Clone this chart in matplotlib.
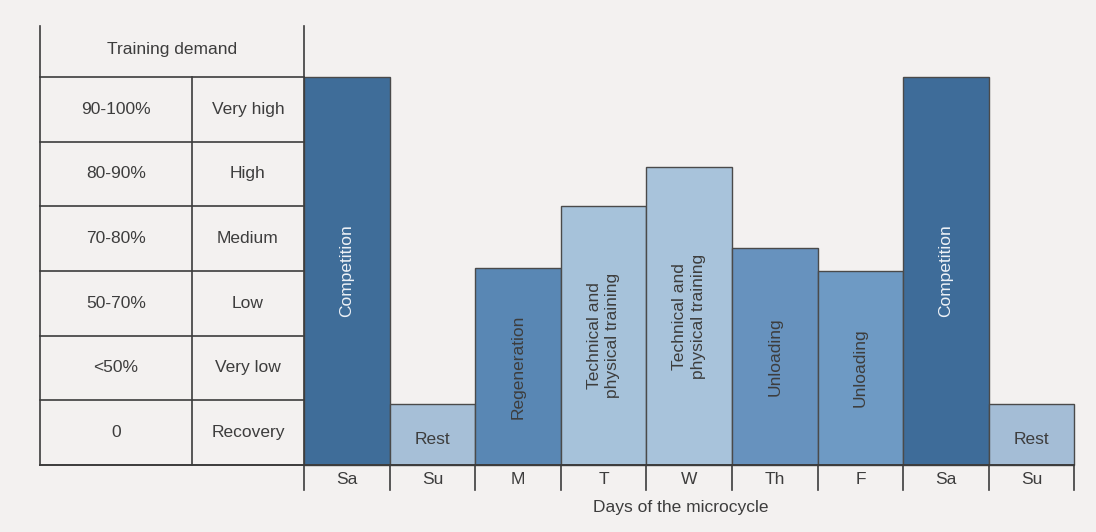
import matplotlib
matplotlib.use("Agg")
import matplotlib.pyplot as plt

days = ["Sa", "Su", "M", "T", "W", "Th", "F", "Sa", "Su"]
demand = [6.0, 0.95, 3.05, 4.0, 4.6, 3.35, 3.0, 6.0, 0.95]
activities = ["Competition", "Rest", "Regeneration",
              "Technical and\nphysical training", "Technical and\nphysical training",
              "Unloading", "Unloading", "Competition", "Rest"]
bar_colors = ["#3f6d99", "#a6bfd7", "#5987b4", "#a6c2da", "#a8c3db",
              "#6792be", "#6e9ac4", "#3e6c99", "#a4bdd6"]
percent_labels = ["0", "<50%", "50-70%", "70-80%", "80-90%", "90-100%"]
level_labels = ["Recovery", "Very low", "Low", "Medium", "High", "Very high"]
header = "Training demand"
xlabel = "Days of the microcycle"

plt.rcParams['font.family'] = ['Liberation Sans', 'DejaVu Sans']
BG = "#f3f1f0"
LINE = "#3c3c3c"
TXT = "#3d3d3d"
FS = 12.5

fig = plt.figure(figsize=(10.96, 5.32), dpi=100, facecolor=BG)
ax = fig.add_axes([0, 0, 1, 1])
ax.set_facecolor(BG)
ax.set_xlim(-3.551, 9.252)
ax.set_ylim(-1.035, 7.187)
ax.axis("off")

# bars
xs = [i + 0.5 for i in range(len(days))]
ax.bar(xs, demand, width=1.0, color=bar_colors, edgecolor="#4a4a4a", linewidth=1.0, zorder=2)
for x, h, act, c in zip(xs, demand, activities, bar_colors):
    if act == "Rest":
        ax.text(x, h * 0.42, act, ha="center", va="center", fontsize=FS, color=TXT, zorder=3)
    else:
        col = "#eef2f7" if act == "Competition" else TXT
        ax.text(x, h / 2, act, ha="center", va="center", rotation=90, fontsize=FS,
                color=col, multialignment="center", linespacing=1.3, zorder=3)

# table
tl, tm, tr = -3.08, -1.31, 0.0
ttop = 6.78
nrows = len(level_labels)
ax.plot([tl, tl], [0, ttop], color=LINE, lw=1.2, zorder=4)
ax.plot([tm, tm], [0, nrows], color=LINE, lw=1.2, zorder=4)
ax.plot([tr, tr], [-0.38, ttop], color=LINE, lw=1.2, zorder=4)
for k in range(1, nrows + 1):
    ax.plot([tl, tr], [k, k], color=LINE, lw=1.2, zorder=4)
for k, (p, l) in enumerate(zip(percent_labels, level_labels)):
    ax.text((tl + tm) / 2, k + 0.5, p, ha="center", va="center", fontsize=FS, color=TXT)
    ax.text((tm + tr) / 2, k + 0.5, l, ha="center", va="center", fontsize=FS, color=TXT)
ax.text((tl + tr) / 2, (nrows + ttop) / 2 + 0.03, header, ha="center", va="center",
        fontsize=FS, color=TXT)

# baseline axis
ax.plot([tl, len(days)], [0, 0], color=LINE, lw=1.4, zorder=4)
for i in range(1, len(days) + 1):
    ax.plot([i, i], [0, -0.38], color=LINE, lw=1.2, zorder=4)
for x, d in zip(xs, days):
    ax.text(x, -0.22, d, ha="center", va="center", fontsize=FS, color=TXT)
ax.text(len(days) / 2 - 0.1, -0.65, xlabel, ha="center", va="center", fontsize=FS, color=TXT)

fig.savefig("out.png", dpi=100, facecolor=BG)
